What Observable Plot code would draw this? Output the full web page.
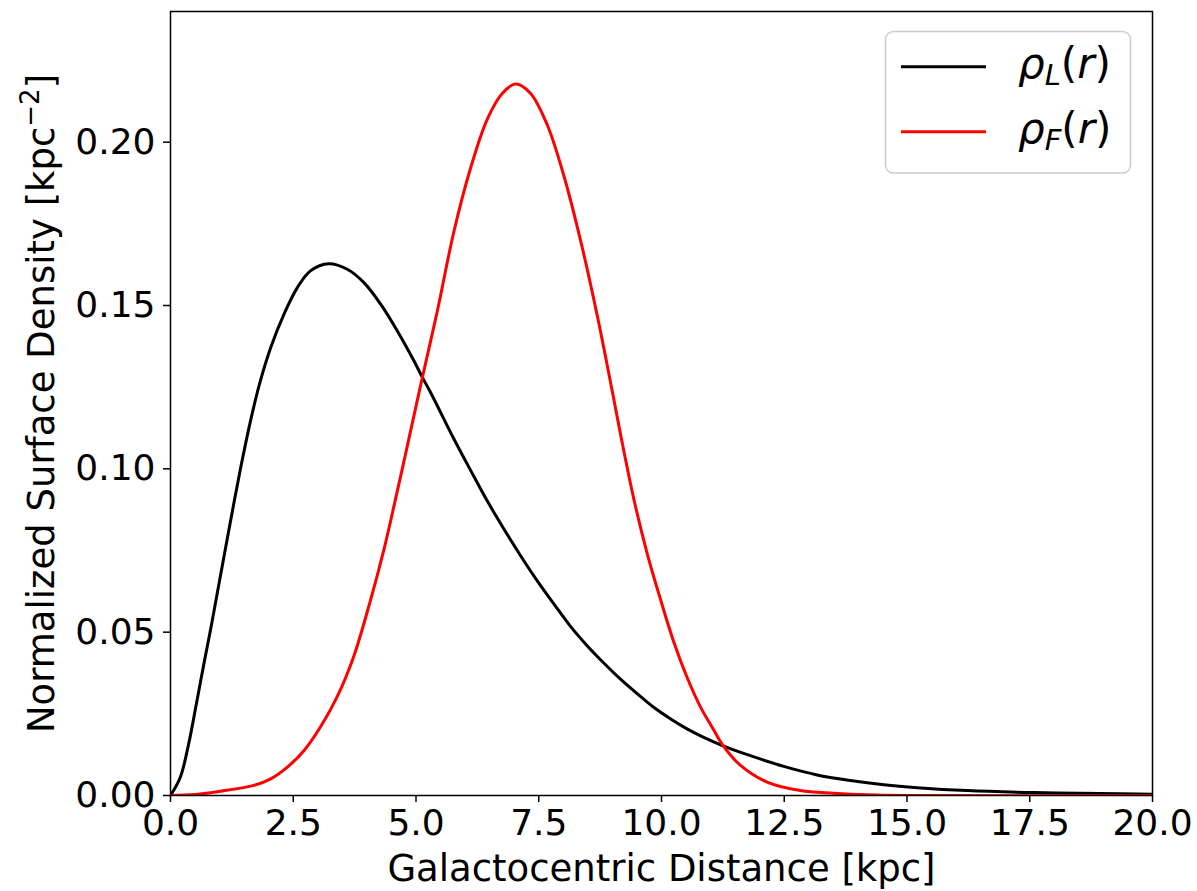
<!DOCTYPE html>
<html><head><meta charset="utf-8">
<script src="https://cdn.jsdelivr.net/npm/d3@7"></script>
<script src="https://cdn.jsdelivr.net/npm/@observablehq/plot@0.6"></script>
<style>
body{margin:0;background:#fff;}
#chart svg{display:block;}
</style>
</head><body><div id="chart"></div>
<script>
// ρ_L(r) (black)
const rhoL_r = [0, 0.2, 0.37, 0.54, 0.68, 0.85, 1.02, 1.21, 1.43, 1.63, 1.83, 2.04, 2.31, 2.58, 2.85, 3.22, 3.60, 3.94, 4.28, 4.62, 4.96, 5.13, 5.30, 5.77, 6.11, 6.45, 6.79, 7.13, 7.47, 7.81, 8.15, 8.49, 8.83, 9.16, 9.51, 9.84, 10.18, 10.52, 10.86, 11.24, 11.81, 12.49, 13.17, 13.85, 14.53, 15.21, 16.23, 17.58, 18.94, 20];
const rhoL_v = [0, 0.0056, 0.0158, 0.0291, 0.0403, 0.0535, 0.0675, 0.0830, 0.1004, 0.1147, 0.1269, 0.1371, 0.1473, 0.1554, 0.1606, 0.1628, 0.1611, 0.1570, 0.1504, 0.1422, 0.1330, 0.1280, 0.1233, 0.1092, 0.0996, 0.0902, 0.0816, 0.0734, 0.0657, 0.0586, 0.0517, 0.0458, 0.0405, 0.0357, 0.0311, 0.0270, 0.0235, 0.0204, 0.0178, 0.0153, 0.0122, 0.0089, 0.0063, 0.0046, 0.0033, 0.0024, 0.0015, 0.0009, 0.0006, 0.0004];
// ρ_F(r) (red)
const rhoF_r = [0, 0.5, 1.02, 1.70, 2.04, 2.38, 2.72, 3.05, 3.39, 3.73, 4.07, 4.34, 4.49, 4.75, 5.13, 5.43, 5.77, 6.11, 6.45, 6.76, 7.03, 7.33, 7.67, 8.01, 8.35, 8.69, 9.03, 9.16, 9.44, 9.71, 9.98, 10.25, 10.52, 10.79, 11.07, 11.24, 11.61, 12.15, 12.83, 13.51, 14.2, 15, 20];
const rhoF_v = [0, 0.0003, 0.0013, 0.0031, 0.0051, 0.0087, 0.0138, 0.0209, 0.0301, 0.0425, 0.0596, 0.0749, 0.0845, 0.1020, 0.1280, 0.1480, 0.1725, 0.1920, 0.2070, 0.2150, 0.2178, 0.2150, 0.2054, 0.1898, 0.1700, 0.1470, 0.1212, 0.1110, 0.0905, 0.0740, 0.0600, 0.0470, 0.0362, 0.0272, 0.0199, 0.0156, 0.0092, 0.0041, 0.0015, 0.0007, 0.0002, 0, 0];

const xTicks = [0, 2.5, 5, 7.5, 10, 12.5, 15, 17.5, 20];
const yTicks = [0, 0.05, 0.10, 0.15, 0.20];
const xLabel = "Galactocentric Distance [kpc]";
const yLabelParts = ["Normalized Surface Density [kpc", "−2", "]"];
const yLabel = "Normalized Surface Density [kpc⁻²]";
const seriesKeys = ["L", "F"];
const seriesColors = ["black", "red"];

const dataL = rhoL_r.map((r, i) => ({r, v: rhoL_v[i]}));
const dataF = rhoF_r.map((r, i) => ({r, v: rhoF_v[i]}));

const font = "DejaVu Sans";
const chart = Plot.plot({
  width: 1197, height: 891,
  marginLeft: 170, marginRight: 45, marginTop: 11, marginBottom: 96,
  style: {fontFamily: font, fontSize: "36px", background: "white", color: "black", overflow: "visible"},
  x: {domain: [0, 20], label: null},
  y: {domain: [0, 0.24], label: null},
  marks: [
    Plot.lineY(dataL, {x: "r", y: "v", stroke: seriesColors[0], strokeWidth: 3, curve: "catmull-rom", clip: true}),
    Plot.lineY(dataF, {x: "r", y: "v", stroke: seriesColors[1], strokeWidth: 3, curve: "catmull-rom", clip: true}),
    Plot.frame({stroke: "black", strokeWidth: 1.5}),
    Plot.axisX(xTicks, {tickSize: 7, tickPadding: 7, strokeWidth: 1.5, fontSize: 36, tickFormat: d => d.toFixed(1), label: null}),
    Plot.axisY(yTicks, {tickSize: 7, tickPadding: 8, strokeWidth: 1.5, fontSize: 36, tickFormat: d => d.toFixed(2), label: null}),
    Plot.text([xLabel], {text: d => d, frameAnchor: "bottom", textAnchor: "middle", dy: 74, lineAnchor: "middle", fontSize: 37, fill: "black"}),
    Plot.text([yLabel], {text: d => d, frameAnchor: "left", textAnchor: "middle", dx: -128, rotate: -90, lineAnchor: "middle", fontSize: 37, fill: "black"})
  ]
});
document.getElementById("chart").appendChild(chart);

const svg = d3.select(chart);
// mathtext-like superscript in the y label
svg.selectAll("text").filter(function() { return this.textContent === yLabel; }).each(function() {
  const s = d3.select(this);
  s.text(null);
  s.append("tspan").text(yLabelParts[0]);
  s.append("tspan").attr("font-size", 26).attr("dy", -15).text(yLabelParts[1]);
  s.append("tspan").attr("dy", 15).text(yLabelParts[2]);
});

// Legend
const lg = svg.append("g").attr("font-family", font).attr("text-anchor", "start");
lg.append("rect").attr("x", 885.5).attr("y", 31.5).attr("width", 245).attr("height", 141.5)
  .attr("rx", 8).attr("fill", "white").attr("fill-opacity", 0.8)
  .attr("stroke", "#cccccc").attr("stroke-width", 1.5);
seriesKeys.forEach((k, i) => {
  const yl = 66.7 + i * 65;
  lg.append("line").attr("x1", 901).attr("x2", 986).attr("y1", yl).attr("y2", yl)
    .attr("stroke", seriesColors[i]).attr("stroke-width", 3);
  const t = lg.append("text").attr("x", 1018).attr("y", yl + 11).attr("font-size", 42)
    .attr("fill", "black").attr("text-anchor", "start");
  t.append("tspan").attr("font-style", "italic").text("ρ");
  t.append("tspan").attr("font-style", "italic").attr("font-size", 29).attr("dy", 7).text(k);
  t.append("tspan").attr("dy", -7).text("(");
  t.append("tspan").attr("font-style", "italic").text("r");
  t.append("tspan").text(")");
});
</script>
</body></html>
